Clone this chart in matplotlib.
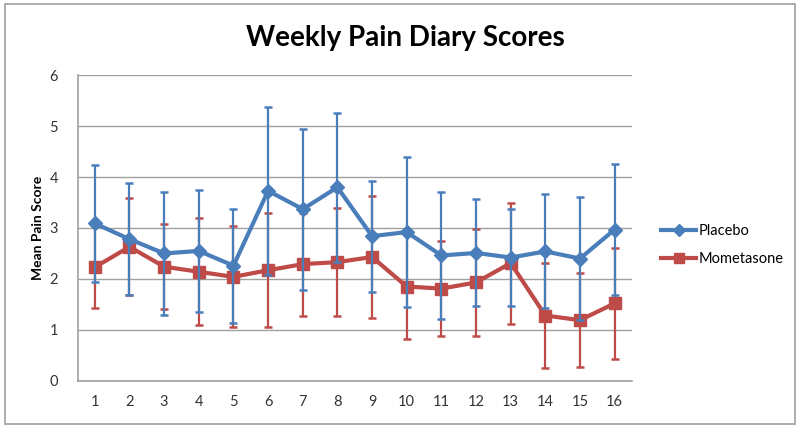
import matplotlib
matplotlib.use("Agg")
import matplotlib.pyplot as plt
from matplotlib.patches import Rectangle
from matplotlib.lines import Line2D

weeks = list(range(1, 17))
placebo = [3.09, 2.78, 2.50, 2.55, 2.26, 3.73, 3.37, 3.80, 2.84, 2.92, 2.46, 2.51, 2.42, 2.54, 2.40, 2.97]
placebo_err = [1.15, 1.10, 1.20, 1.20, 1.12, 1.65, 1.58, 1.46, 1.09, 1.47, 1.25, 1.05, 0.95, 1.12, 1.20, 1.28]
mometasone = [2.23, 2.63, 2.24, 2.14, 2.04, 2.17, 2.29, 2.33, 2.43, 1.85, 1.81, 1.93, 2.31, 1.28, 1.19, 1.52]
mometasone_err = [0.80, 0.95, 0.83, 1.05, 0.99, 1.12, 1.01, 1.06, 1.20, 1.03, 0.93, 1.06, 1.19, 1.03, 0.92, 1.09]

blue = "#4a7ebb"
red = "#be4b48"

plt.rcParams['font.family'] = ['Lato', 'DejaVu Sans']

fig = plt.figure(figsize=(8, 4.26), dpi=100)
ax = fig.add_axes([77.5/800, 1 - 380.7/426, (632 - 77.5)/800, (380.7 - 75.3)/426])

ax.errorbar(weeks, placebo, yerr=placebo_err, color=blue, lw=3, marker='D', ms=7.5,
            ecolor=blue, elinewidth=1.6, capsize=3, capthick=1.8, zorder=3)
ax.errorbar(weeks, mometasone, yerr=mometasone_err, color=red, lw=3, marker='s', ms=9,
            ecolor=red, elinewidth=1.6, capsize=3, capthick=1.8, zorder=2)

ax.set_xlim(0.5, 16.5)
ax.set_ylim(0, 6)
ax.set_xticks(weeks)
ax.set_yticks(range(0, 7))
ax.tick_params(length=0, labelsize=10.5, colors='#333333', pad=10)
ax.tick_params(axis='y', pad=14)
ax.grid(axis='y', color='#a0a0a0', lw=1)
ax.set_axisbelow(True)
for s in ['top', 'right']:
    ax.spines[s].set_visible(False)
for s in ['left', 'bottom']:
    ax.spines[s].set_color('#a0a0a0')
    ax.spines[s].set_linewidth(1.2)

ax.set_ylabel('Mean Pain Score', fontsize=10, fontweight='bold', labelpad=4)
fig.text(405/800, 1 - 38/426, 'Weekly Pain Diary Scores', ha='center', va='center',
         fontsize=20, fontweight='bold')

handles = [Line2D([], [], color=blue, lw=3, marker='D', ms=6),
           Line2D([], [], color=red, lw=3, marker='s', ms=7)]
leg = fig.legend(handles, ['Placebo', 'Mometasone'], loc='center left',
                 bbox_to_anchor=(648/800, 1 - 245/426), frameon=False,
                 fontsize=10.5, handlelength=2.4, labelspacing=1.0, handletextpad=0.2)

fig.patches.append(Rectangle((5/800, 2/426), 790/800, 420/426, transform=fig.transFigure,
                             fill=False, edgecolor='#a0a0a0', lw=1.2))

fig.savefig('out.png', dpi=100)
